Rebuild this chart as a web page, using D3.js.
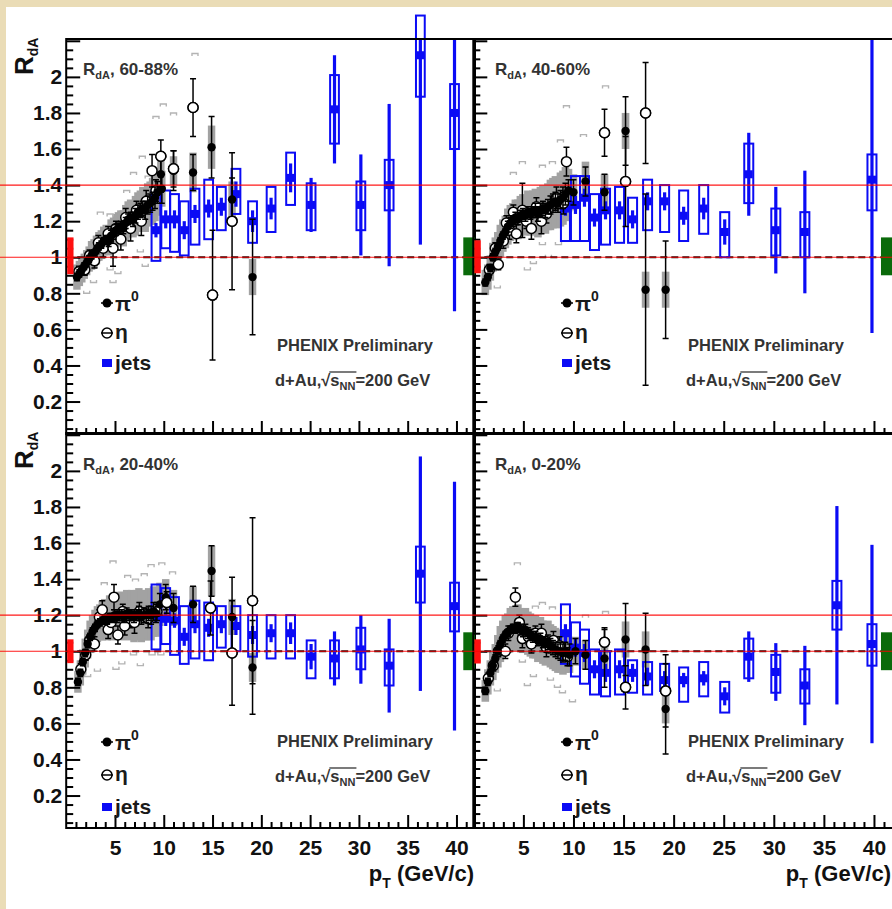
<!DOCTYPE html>
<html><head><meta charset="utf-8">
<script src="https://cdn.jsdelivr.net/npm/d3@7"></script>
<style>
html,body{margin:0;padding:0;background:#eadcb6;}
svg{display:block;}
</style></head><body>
<svg id="c" width="892" height="909"></svg>
<script>
// ---------------- DATA ----------------
const xDomain = [0, 41.9];
const yDomain = [0.02, 2.21];
const yMajorTicks = [0.2, 0.4, 0.6, 0.8, 1, 1.2, 1.4, 1.6, 1.8, 2, 2.2];
const yTickLabels = ["0.2", "0.4", "0.6", "0.8", "1", "1.2", "1.4", "1.6", "1.8", "2", ""];
const xMajorTicks = [5, 10, 15, 20, 25, 30, 35, 40];
const xTickLabels = ["5", "10", "15", "20", "25", "30", "35", "40"];
const centralities = ["60-88%", "40-60%", "20-40%", "0-20%"];

// jets pT bins (shared)
const jetPt = [9.2, 10.2, 11.1, 12.1, 13.2, 14.6, 15.9, 17.4, 19.1, 21.0, 23.0, 25.1, 27.5, 30.2, 33.1, 36.3, 39.8];

const jet6088Val   = [1.15, 1.21, 1.21, 1.15, 1.24, 1.27, 1.28, 1.35, 1.20, 1.27, 1.44, 1.29, 1.82, 1.29, 1.40, 2.12, 1.80];
const jet6088Stat  = [0.04, 0.05, 0.05, 0.05, 0.05, 0.05, 0.05, 0.07, 0.06, 0.06, 0.08, 0.15, 0.30, 0.28, 0.45, 1.05, 1.10];
const jet6088SysLo = [0.98, 1.05, 1.03, 1.01, 1.07, 1.10, 1.15, 1.24, 1.08, 1.14, 1.29, 1.15, 1.63, 1.15, 1.26, 1.89, 1.60];
const jet6088SysHi = [1.37, 1.37, 1.35, 1.31, 1.38, 1.43, 1.39, 1.49, 1.31, 1.39, 1.58, 1.41, 2.01, 1.42, 1.54, 2.34, 1.96];

const jet4060Val   = [1.27, 1.29, 1.33, 1.22, 1.26, 1.26, 1.21, 1.31, 1.31, 1.23, 1.27, 1.14, 1.46, 1.15, 1.14, null, 1.43];
const jet4060Stat  = [0.04, 0.05, 0.05, 0.05, 0.05, 0.05, 0.05, 0.05, 0.05, 0.05, 0.06, 0.07, 0.23, 0.24, 0.34, null, 0.85];
const jet4060SysLo = [1.09, 1.09, 1.09, 1.04, 1.07, 1.08, 1.08, 1.15, 1.14, 1.09, 1.13, 1.00, 1.30, 1.01, 1.00, null, 1.26];
const jet4060SysHi = [1.31, 1.45, 1.45, 1.35, 1.38, 1.39, 1.33, 1.43, 1.40, 1.37, 1.40, 1.25, 1.63, 1.27, 1.25, null, 1.57];

const jet2040Val   = [1.19, 1.18, 1.17, 1.08, 1.15, 1.13, 1.15, 1.14, 1.09, 1.10, 1.10, 0.97, 0.96, 1.01, 0.92, 1.43, 1.25];
const jet2040Stat  = [0.03, 0.04, 0.04, 0.05, 0.05, 0.05, 0.05, 0.05, 0.05, 0.05, 0.06, 0.07, 0.15, 0.19, 0.26, 0.65, 0.69];
const jet2040SysLo = [1.01, 1.04, 0.98, 0.93, 0.96, 0.95, 1.02, 1.00, 0.97, 0.96, 0.96, 0.85, 0.85, 0.90, 0.81, 1.27, 1.11];
const jet2040SysHi = [1.37, 1.35, 1.30, 1.25, 1.28, 1.27, 1.25, 1.25, 1.20, 1.20, 1.20, 1.06, 1.06, 1.13, 1.01, 1.58, 1.38];

const jet0020Val   = [1.10, 1.02, 0.99, 0.90, 0.88, 0.90, 0.88, 0.86, 0.84, 0.84, 0.85, 0.75, 0.97, 0.885, 0.81, 1.255, 1.04];
const jet0020Stat  = [0.05, 0.05, 0.05, 0.05, 0.05, 0.05, 0.05, 0.05, 0.05, 0.04, 0.04, 0.05, 0.14, 0.16, 0.22, 0.55, 0.55];
const jet0020SysLo = [0.93, 0.86, 0.82, 0.76, 0.75, 0.76, 0.77, 0.76, 0.78, 0.72, 0.75, 0.66, 0.85, 0.77, 0.71, 1.12, 0.92];
const jet0020SysHi = [1.26, 1.16, 1.12, 1.01, 1.00, 1.01, 0.95, 0.94, 0.93, 0.91, 0.94, 0.83, 1.07, 0.98, 0.90, 1.39, 1.15];

// pi0: [pT, RdA, stat, sys]
const pi0_6088 = [[1.1,0.89,0.02,0.07],[1.35,0.91,0.02,0.07],[1.6,0.93,0.02,0.07],[1.85,0.95,0.02,0.07],[2.1,0.97,0.02,0.07],[2.35,0.99,0.02,0.07],[2.6,1.01,0.02,0.08],[2.85,1.02,0.02,0.08],[3.1,1.04,0.02,0.08],[3.35,1.06,0.02,0.08],[3.6,1.07,0.02,0.08],[3.85,1.09,0.02,0.08],[4.1,1.10,0.02,0.08],[4.35,1.09,0.03,0.08],[4.6,1.12,0.03,0.09],[4.85,1.13,0.03,0.09],[5.1,1.15,0.03,0.09],[5.35,1.16,0.03,0.09],[5.6,1.17,0.03,0.09],[5.85,1.16,0.03,0.10],[6.1,1.19,0.03,0.10],[6.35,1.21,0.03,0.10],[6.6,1.22,0.03,0.10],[6.85,1.21,0.04,0.10],[7.1,1.23,0.04,0.11],[7.35,1.25,0.04,0.11],[7.6,1.26,0.04,0.11],[7.85,1.27,0.04,0.12],[8.1,1.26,0.05,0.12],[8.35,1.29,0.05,0.12],[8.6,1.30,0.05,0.12],[8.85,1.31,0.05,0.13],[9.1,1.33,0.06,0.13],[9.35,1.36,0.06,0.13],[9.7,1.46,0.10,0.10],[9.8,1.38,0.08,0.10],[11.0,1.48,0.11,0.08],[13.0,1.47,0.10,0.11],[14.9,1.61,0.17,0.12],[17.0,1.32,0.12,0.10],[19.1,0.89,0.32,0.10]];
const pi0_4060 = [[1.2,0.86,0.02,0.07],[1.45,0.89,0.02,0.07],[1.7,0.94,0.02,0.07],[1.95,1.00,0.02,0.08],[2.2,1.03,0.02,0.08],[2.45,1.06,0.02,0.08],[2.7,1.09,0.02,0.09],[2.95,1.12,0.02,0.09],[3.2,1.14,0.02,0.09],[3.45,1.17,0.03,0.10],[3.7,1.19,0.03,0.10],[3.95,1.20,0.03,0.10],[4.2,1.22,0.03,0.10],[4.45,1.21,0.03,0.11],[4.7,1.23,0.03,0.11],[4.95,1.24,0.03,0.11],[5.2,1.23,0.03,0.11],[5.45,1.25,0.03,0.12],[5.7,1.24,0.03,0.12],[5.95,1.25,0.03,0.12],[6.2,1.26,0.04,0.12],[6.45,1.24,0.04,0.13],[6.7,1.26,0.04,0.13],[6.95,1.27,0.04,0.13],[7.2,1.26,0.04,0.13],[7.45,1.28,0.04,0.13],[7.7,1.29,0.05,0.14],[7.95,1.30,0.05,0.14],[8.2,1.31,0.05,0.14],[8.45,1.30,0.05,0.14],[8.7,1.32,0.05,0.15],[8.95,1.33,0.06,0.15],[9.2,1.35,0.06,0.15],[9.5,1.37,0.06,0.12],[10.0,1.36,0.07,0.10],[11.2,1.42,0.08,0.11],[13.1,1.36,0.10,0.10],[15.2,1.70,0.19,0.10],[17.2,0.82,0.53,0.10],[19.2,0.82,0.27,0.10]];
const pi0_2040 = [[1.2,0.83,0.02,0.06],[1.45,0.88,0.02,0.07],[1.7,0.94,0.02,0.07],[1.95,0.99,0.02,0.08],[2.2,1.04,0.02,0.08],[2.45,1.08,0.02,0.09],[2.7,1.11,0.02,0.09],[2.95,1.13,0.02,0.10],[3.2,1.15,0.02,0.10],[3.45,1.16,0.02,0.10],[3.7,1.17,0.02,0.11],[3.95,1.18,0.02,0.11],[4.2,1.17,0.02,0.11],[4.45,1.19,0.02,0.12],[4.7,1.18,0.02,0.12],[4.95,1.20,0.03,0.12],[5.2,1.19,0.03,0.12],[5.45,1.20,0.03,0.13],[5.7,1.20,0.03,0.13],[5.95,1.19,0.03,0.13],[6.2,1.21,0.03,0.13],[6.45,1.20,0.03,0.13],[6.7,1.20,0.03,0.14],[6.95,1.19,0.03,0.14],[7.2,1.20,0.03,0.14],[7.45,1.21,0.04,0.14],[7.7,1.19,0.04,0.14],[7.95,1.20,0.04,0.14],[8.2,1.20,0.04,0.14],[8.45,1.21,0.04,0.14],[8.7,1.20,0.05,0.14],[8.95,1.22,0.05,0.14],[9.2,1.21,0.05,0.13],[9.6,1.26,0.06,0.12],[10.2,1.30,0.07,0.10],[11.0,1.24,0.08,0.10],[13.0,1.26,0.10,0.10],[14.9,1.445,0.14,0.14],[17.0,1.19,0.22,0.10],[19.1,0.91,0.26,0.08]];
const pi0_0020 = [[1.2,0.78,0.02,0.06],[1.45,0.83,0.02,0.07],[1.7,0.88,0.02,0.07],[1.95,0.92,0.02,0.08],[2.2,0.96,0.02,0.08],[2.45,1.00,0.02,0.09],[2.7,1.04,0.02,0.10],[2.95,1.07,0.02,0.10],[3.2,1.09,0.02,0.11],[3.45,1.10,0.02,0.11],[3.7,1.12,0.02,0.12],[3.95,1.13,0.02,0.12],[4.2,1.12,0.02,0.12],[4.45,1.14,0.02,0.12],[4.7,1.12,0.03,0.12],[4.95,1.11,0.03,0.12],[5.2,1.12,0.03,0.12],[5.45,1.10,0.03,0.12],[5.7,1.09,0.03,0.12],[5.95,1.08,0.03,0.12],[6.2,1.08,0.03,0.12],[6.45,1.06,0.03,0.12],[6.7,1.07,0.03,0.12],[6.95,1.05,0.03,0.12],[7.2,1.04,0.04,0.12],[7.45,1.05,0.04,0.12],[7.7,1.03,0.04,0.12],[7.95,1.02,0.04,0.12],[8.2,1.01,0.04,0.12],[8.45,1.00,0.04,0.12],[8.7,1.00,0.05,0.12],[8.95,0.99,0.05,0.12],[9.2,1.00,0.05,0.12],[9.6,0.98,0.06,0.10],[10.2,1.00,0.07,0.08],[11.2,0.98,0.08,0.08],[13.1,0.96,0.16,0.08],[15.2,1.065,0.20,0.10],[17.2,1.01,0.20,0.10],[19.2,0.68,0.25,0.08]];

// eta: [pT, RdA, stat]
const eta_6088 = [[1.3,0.92,0.03],[1.9,0.93,0.03],[2.4,1.01,0.03],[2.9,0.98,0.04],[3.3,1.08,0.04],[3.8,1.05,0.05],[4.3,1.13,0.04],[4.8,1.05,0.10],[5.1,1.16,0.04],[5.6,1.10,0.06],[6.1,1.22,0.05],[6.6,1.16,0.07],[7.2,1.26,0.05],[7.7,1.20,0.08],[8.2,1.31,0.06],[8.8,1.48,0.09],[9.2,1.37,0.06],[9.7,1.56,0.09],[11.0,1.49,0.10],[13.0,1.83,0.16],[15.0,0.79,0.36],[17.0,1.20,0.38]];
const eta_4060 = [[1.6,0.93,0.03],[2.2,1.05,0.03],[2.5,0.96,0.03],[3.0,1.09,0.04],[3.3,1.19,0.04],[3.6,1.15,0.05],[4.0,1.25,0.04],[4.3,1.13,0.05],[4.9,1.26,0.15],[5.3,1.20,0.04],[5.8,1.16,0.06],[6.3,1.28,0.05],[6.8,1.20,0.07],[7.3,1.24,0.05],[8.3,1.33,0.06],[9.0,1.30,0.06],[9.3,1.53,0.08],[13.1,1.69,0.13],[15.2,1.42,0.25],[17.2,1.80,0.28]];
const eta_2040 = [[1.5,0.90,0.03],[2.0,0.98,0.03],[2.4,1.06,0.03],[2.9,1.04,0.04],[3.4,1.19,0.04],[3.7,1.23,0.05],[4.3,1.12,0.05],[4.6,1.16,0.04],[4.9,1.30,0.07],[5.3,1.09,0.05],[5.8,1.22,0.04],[6.0,1.14,0.05],[6.6,1.18,0.05],[7.0,1.16,0.06],[7.5,1.22,0.05],[8.4,1.18,0.05],[9.3,1.22,0.05],[10.3,1.27,0.06],[14.8,1.24,0.15],[17.0,0.99,0.29],[19.1,1.28,0.46]];
const eta_0020 = [[1.5,0.85,0.03],[2.0,0.92,0.03],[2.5,1.00,0.03],[3.2,1.00,0.04],[3.5,1.10,0.04],[4.2,1.30,0.05],[4.6,1.16,0.04],[4.9,1.07,0.05],[5.5,1.08,0.04],[5.8,1.04,0.05],[6.2,1.10,0.04],[6.8,1.10,0.05],[7.3,1.02,0.05],[8.0,1.06,0.05],[8.6,1.03,0.05],[9.4,0.97,0.05],[13.1,1.05,0.08],[15.2,0.80,0.12],[19.2,0.78,0.20]];

// light grey systematic brackets: [pT, RdA, side(+1 upper, -1 lower)]
const etaSys6088 = [[13.2,2.13,1],[9.95,1.85,1],[9.2,1.78,1],[11.0,1.80,1],[7.8,1.56,1],[6.9,1.47,1],[8.4,1.45,1],[6.2,1.37,1],[3.5,1.25,1],[4.5,1.24,1],[7.6,1.03,-1],[4.5,0.93,-1],[5.3,0.91,-1],[4.8,0.86,-1],[2.8,0.86,-1],[2.1,0.80,-1],[8.1,0.95,-1]];
const etaSys4060 = [[13.2,1.95,1],[11.0,1.68,1],[8.7,1.65,1],[9.9,1.42,1],[7.9,1.53,1],[6.9,1.51,1],[4.9,1.53,1],[4.0,1.47,1],[9.3,1.84,1],[6.9,1.07,-1],[6.0,0.965,-1],[5.4,0.93,-1],[2.4,0.83,-1],[7.5,1.00,-1],[8.5,1.07,-1]];
const etaSys2040 = [[4.8,1.50,1],[3.9,1.38,1],[6.3,1.42,1],[7.1,1.40,1],[8.0,1.43,1],[8.7,1.48,1],[9.8,1.49,1],[10.9,1.44,1],[6.9,0.98,-1],[7.6,0.92,-1],[5.7,0.93,-1],[5.1,0.90,-1],[3.2,0.89,-1],[2.2,0.86,-1],[8.8,0.98,-1],[9.7,0.98,-1]];
const etaSys0020 = [[4.4,1.49,1],[6.2,1.25,1],[6.9,1.27,1],[7.9,1.245,1],[11.2,1.20,1],[13.2,1.22,1],[4.9,0.94,-1],[6.0,0.86,-1],[7.7,0.84,-1],[8.4,0.80,-1],[8.9,0.77,-1],[5.4,0.81,-1],[2.4,0.78,-1],[9.9,0.72,-1]];

// normalisation uncertainty boxes [low, high]: red (pi0/eta, left), green (jets, right)
const normRed   = [[0.906, 1.11], [0.911, 1.094], [0.934, 1.066], [0.932, 1.066]];
const normGreen = [[0.90, 1.11], [0.90, 1.11], [0.895, 1.105], [0.895, 1.105]];
const redBoxPt = [0.1, 0.75];
const greenBoxPt = [40.7, 41.9];

// red guide lines drawn across the picture
const guideTop = [1.4, 1.0];
const guideBottom = [1.2, 1.0];

// ---------------- LAYOUT ----------------
const FONT = "'Liberation Sans', Arial, Helvetica, sans-serif";
const layouts = [
  {x0:66.2, x1:475, y0:39, y1:434, left:true, bottom:false, labX:83, labY:75, legX:107, legY:[303,333,363], phX:277, phY:[351,386]},
  {x0:473.3, x1:893, y0:39, y1:434, left:false, bottom:false, labX:495, labY:75, legX:567, legY:[303,333,363], phX:688, phY:[351,386]},
  {x0:66.2, x1:475, y0:433, y1:828, left:true, bottom:true, labX:83, labY:470, legX:107, legY:[742,775,807], phX:277, phY:[747,782]},
  {x0:473.3, x1:893, y0:433, y1:828, left:false, bottom:true, labX:495, labY:470, legX:567, legY:[742,775,807], phX:688, phY:[747,782]}
];
const panelData = [
  {val:jet6088Val, stat:jet6088Stat, lo:jet6088SysLo, hi:jet6088SysHi, pi0:pi0_6088, eta:eta_6088, esys:etaSys6088},
  {val:jet4060Val, stat:jet4060Stat, lo:jet4060SysLo, hi:jet4060SysHi, pi0:pi0_4060, eta:eta_4060, esys:etaSys4060},
  {val:jet2040Val, stat:jet2040Stat, lo:jet2040SysLo, hi:jet2040SysHi, pi0:pi0_2040, eta:eta_2040, esys:etaSys2040},
  {val:jet0020Val, stat:jet0020Stat, lo:jet0020SysLo, hi:jet0020SysHi, pi0:pi0_0020, eta:eta_0020, esys:etaSys0020}
];

const BLUE = "#0b0bf5", GREY = "#a2a2a2", LGREY = "#b4b4b4";
const svg = d3.select("#c");
svg.append("rect").attr("x",6).attr("y",7).attr("width",886).attr("height",902).attr("fill","#fff");

const clampY = v => Math.max(yDomain[0], Math.min(yDomain[1], v));

layouts.forEach((L, pi) => {
  const D = panelData[pi];
  const x = d3.scaleLinear().domain(xDomain).range([L.x0, L.x1]);
  const y = d3.scaleLinear().domain(yDomain).range([L.y1, L.y0]);
  const g = svg.append("g");

  const jets = jetPt.map((pt, i) => ({pt, v:D.val[i], s:D.stat[i], lo:D.lo[i], hi:D.hi[i]})).filter(d => d.v != null);
  const pi0 = D.pi0.map(([pt, v, s, sys]) => ({pt, v, s, sys}));
  const eta = D.eta.map(([pt, v, s]) => ({pt, v, s}));
  const esys = D.esys.map(([pt, v, side]) => ({pt, v, side}));

  // pi0 systematic boxes (grey band)
  const hw = 0.38;
  g.append("g").selectAll("rect").data(pi0).join("rect")
    .attr("x", d => x(d.pt - hw)).attr("width", d => x(d.pt + hw) - x(d.pt - hw))
    .attr("y", d => y(d.v + d.sys)).attr("height", d => y(d.v - d.sys) - y(d.v + d.sys))
    .attr("fill", GREY);

  // light grey brackets
  g.append("g").selectAll("path").data(esys).join("path")
    .attr("d", d => {
      const cx = x(d.pt), cy = y(d.v), dy = d.side > 0 ? 2.5 : -2.5;
      return `M${cx-3},${cy+dy}V${cy}H${cx+3}V${cy+dy}`;
    })
    .attr("fill", "none").attr("stroke", LGREY).attr("stroke-width", 1.4);

  // dashed line at 1
  g.append("line").attr("x1", L.x0).attr("x2", Math.min(L.x1, 892)).attr("y1", y(1)).attr("y2", y(1))
    .attr("stroke", "#111").attr("stroke-width", 1.8).attr("stroke-dasharray", "7,4");

  // jets
  const jb = 0.45;
  const jg = g.append("g");
  jg.selectAll("rect.sys").data(jets).join("rect").attr("class", "sys")
    .attr("x", d => x(d.pt - jb)).attr("width", d => x(d.pt + jb) - x(d.pt - jb))
    .attr("y", d => y(d.hi)).attr("height", d => y(d.lo) - y(d.hi))
    .attr("fill", "none").attr("stroke", BLUE).attr("stroke-width", 2);
  jg.selectAll("line").data(jets).join("line")
    .attr("x1", d => x(d.pt)).attr("x2", d => x(d.pt))
    .attr("y1", d => y(clampY(d.v + d.s))).attr("y2", d => y(clampY(d.v - d.s)))
    .attr("stroke", BLUE).attr("stroke-width", 3.2);
  jg.selectAll("rect.m").data(jets).join("rect").attr("class", "m")
    .attr("x", d => x(d.pt) - 4).attr("y", d => y(d.v) - 4).attr("width", 8).attr("height", 8)
    .attr("fill", BLUE);

  // error bar helper
  function errBars(sel, data) {
    sel.selectAll("line.e").data(data).join("line").attr("class", "e")
      .attr("x1", d => x(d.pt)).attr("x2", d => x(d.pt))
      .attr("y1", d => y(clampY(d.v + d.s))).attr("y2", d => y(clampY(d.v - d.s)))
      .attr("stroke", "#000").attr("stroke-width", 1.5);
    sel.selectAll("path.cap").data(data).join("path").attr("class", "cap")
      .attr("d", d => `M${x(d.pt)-3},${y(d.v+d.s)}h6M${x(d.pt)-3},${y(d.v-d.s)}h6`)
      .attr("stroke", "#000").attr("stroke-width", 1.5);
  }
  // eta (drawn under pi0 markers)
  const eg = g.append("g");
  errBars(eg, eta);
  eg.selectAll("circle").data(eta).join("circle")
    .attr("cx", d => x(d.pt)).attr("cy", d => y(d.v)).attr("r", 5)
    .attr("fill", "#fff").attr("stroke", "#000").attr("stroke-width", 1.5);
  // pi0
  const pg = g.append("g");
  errBars(pg, pi0);
  pg.selectAll("circle").data(pi0).join("circle")
    .attr("cx", d => x(d.pt)).attr("cy", d => y(d.v)).attr("r", 4.2).attr("fill", "#000");
  // high-pT eta circles re-drawn on top so they stay open
  g.append("g").selectAll("circle").data(eta.filter(d => d.pt > 9.5)).join("circle")
    .attr("cx", d => x(d.pt)).attr("cy", d => y(d.v)).attr("r", 5)
    .attr("fill", "#fff").attr("stroke", "#000").attr("stroke-width", 1.5);

  // frame
  g.append("rect").attr("x", L.x0).attr("y", L.y0).attr("width", L.x1 - L.x0).attr("height", L.y1 - L.y0)
    .attr("fill", "none").attr("stroke", "#000").attr("stroke-width", 2);

  // axes
  const yMinor = d3.range(0.05, 2.201, 0.05).filter(v => Math.abs(v*5 - Math.round(v*5)) > 1e-6);
  const ax1 = g.append("g").attr("transform", `translate(${L.x0},0)`)
    .call(d3.axisLeft(y).tickValues(yMajorTicks).tickSize(-14).tickPadding(4)
      .tickFormat((d, i) => L.left ? yTickLabels[i] : ""));
  const ax2 = g.append("g").attr("transform", `translate(${L.x0},0)`)
    .call(d3.axisLeft(y).tickValues(yMinor).tickSize(-7).tickFormat(""));
  const xMinor = d3.range(1, 42, 1).filter(v => v % 5 !== 0);
  const ax3 = g.append("g").attr("transform", `translate(0,${L.y1})`)
    .call(d3.axisBottom(x).tickValues(xMajorTicks).tickSize(-13).tickPadding(12)
      .tickFormat((d, i) => L.bottom ? xTickLabels[i] : ""));
  const ax4 = g.append("g").attr("transform", `translate(0,${L.y1})`)
    .call(d3.axisBottom(x).tickValues(xMinor).tickSize(-6).tickFormat(""));
  [ax1, ax2, ax3, ax4].forEach(a => {
    a.select(".domain").remove();
    a.selectAll(".tick line").attr("stroke", "#000").attr("stroke-width", 2);
    a.selectAll("text").attr("font-family", FONT).attr("font-weight", "bold").attr("font-size", 21).attr("fill", "#111");
  });

  // normalisation boxes
  g.append("rect").attr("x", x(redBoxPt[0])).attr("width", x(redBoxPt[1]) - x(redBoxPt[0]))
    .attr("y", y(normRed[pi][1])).attr("height", y(normRed[pi][0]) - y(normRed[pi][1])).attr("fill", "#ff1010");
  g.append("rect").attr("x", x(greenBoxPt[0])).attr("width", x(greenBoxPt[1]) - x(greenBoxPt[0]))
    .attr("y", y(normGreen[pi][1])).attr("height", y(normGreen[pi][0]) - y(normGreen[pi][1])).attr("fill", "#0a6a0a");

  // panel label
  const lt = g.append("text").attr("x", L.labX).attr("y", L.labY).attr("font-family", FONT)
    .attr("font-weight", "bold").attr("font-size", 17).attr("fill", "#333");
  lt.append("tspan").text("R");
  lt.append("tspan").attr("font-size", 11).attr("dy", 4).text("dA");
  lt.append("tspan").attr("dy", -4).text(", " + centralities[pi]);

  // legend
  const lx = L.legX, ly = L.legY;
  g.append("line").attr("x1", lx - 6).attr("x2", lx + 6).attr("y1", ly[0]).attr("y2", ly[0]).attr("stroke", "#000").attr("stroke-width", 1.5);
  g.append("circle").attr("cx", lx).attr("cy", ly[0]).attr("r", 4.5).attr("fill", "#000");
  g.append("line").attr("x1", lx - 6).attr("x2", lx + 6).attr("y1", ly[1]).attr("y2", ly[1]).attr("stroke", "#000").attr("stroke-width", 1.5);
  g.append("circle").attr("cx", lx).attr("cy", ly[1]).attr("r", 5).attr("fill", "none").attr("stroke", "#000").attr("stroke-width", 1.5);
  g.append("rect").attr("x", lx - 5).attr("y", ly[2] - 4).attr("width", 10).attr("height", 8).attr("fill", BLUE);
  const lg = g.append("g").attr("font-family", FONT).attr("font-weight", "bold").attr("fill", "#1a1a1a");
  const t0 = lg.append("text").attr("x", lx + 8).attr("y", ly[0] + 8).attr("font-size", 21);
  t0.append("tspan").text("π");
  t0.append("tspan").attr("font-size", 14).attr("dy", -10).text("0");
  lg.append("text").attr("x", lx + 8).attr("y", ly[1] + 6).attr("font-size", 21).text("η");
  lg.append("text").attr("x", lx + 8).attr("y", ly[2] + 7).attr("font-size", 21).text("jets");

  // PHENIX texts
  g.append("text").attr("x", L.phX).attr("y", L.phY[0]).attr("font-family", FONT).attr("font-weight", "bold")
    .attr("font-size", 16.5).attr("fill", "#333").text("PHENIX Preliminary");
  const st = g.append("text").attr("x", L.phX - 2).attr("y", L.phY[1]).attr("font-family", FONT).attr("font-weight", "bold")
    .attr("font-size", 16.5).attr("fill", "#333");
  st.append("tspan").text("d+Au,√s");
  st.append("tspan").attr("font-size", 11).attr("dy", 4).text("NN");
  st.append("tspan").attr("dy", -4).text("=200 GeV");
  const n = st.node();
  const sx = n.getStartPositionOfChar(6).x;
  const ex = n.getEndPositionOfChar(8).x;
  g.append("line").attr("x1", sx - 1).attr("x2", ex + 1).attr("y1", L.phY[1] - 14).attr("y2", L.phY[1] - 14)
    .attr("stroke", "#333").attr("stroke-width", 1.3);

  // axis titles
  if (L.left) {
    const rt = g.append("text").attr("transform", `translate(33,${L.y0 + 36}) rotate(-90)`)
      .attr("font-family", FONT).attr("font-weight", "bold").attr("font-size", 26).attr("fill", "#111");
    rt.append("tspan").text("R");
    rt.append("tspan").attr("font-size", 14).attr("dy", 5).text("dA");
  }
  if (L.bottom) {
    const pt = g.append("text").attr("x", Math.min(L.x1, 892) - 1).attr("y", 881).attr("text-anchor", "end")
      .attr("font-family", FONT).attr("font-weight", "bold").attr("font-size", 22).attr("fill", "#111");
    pt.append("tspan").text("p");
    pt.append("tspan").attr("font-size", 14).attr("dy", 7).text("T");
    pt.append("tspan").attr("dy", -7).text(" (GeV/c)");
  }
});

// red guide lines
const yTop = d3.scaleLinear().domain(yDomain).range([layouts[0].y1, layouts[0].y0]);
const yBot = d3.scaleLinear().domain(yDomain).range([layouts[2].y1, layouts[2].y0]);
svg.append("g").selectAll("line").data(guideTop.map(v => yTop(v)).concat(guideBottom.map(v => yBot(v)))).join("line")
  .attr("x1", 0).attr("x2", 892).attr("y1", d => d).attr("y2", d => d)
  .attr("stroke", "#ff0000").attr("stroke-width", 1.2).attr("opacity", 0.9);
</script>
</body></html>
